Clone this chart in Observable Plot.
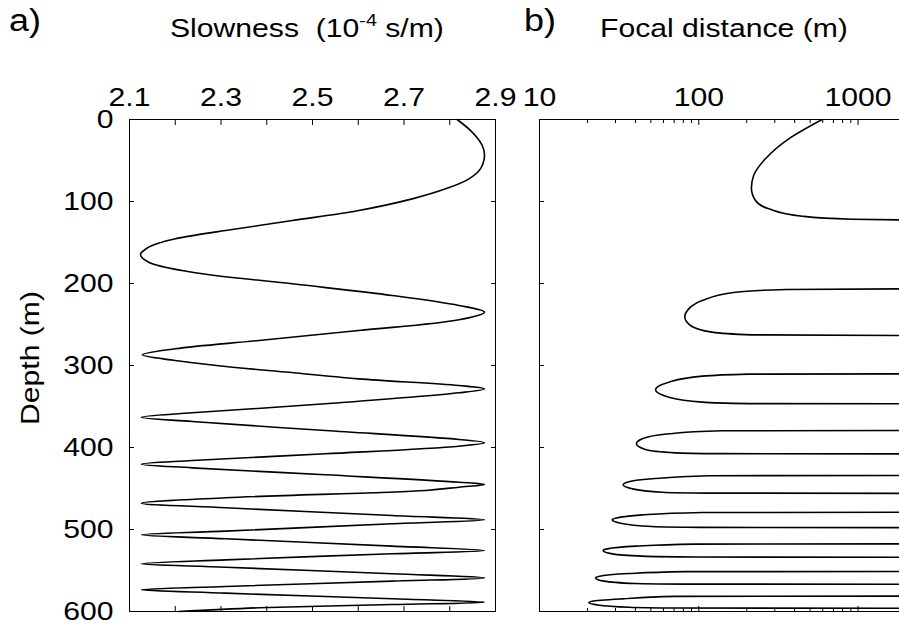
<!DOCTYPE html>
<html>
<head>
<meta charset="utf-8">
<script src="https://cdn.jsdelivr.net/npm/d3@7"></script>
<script src="https://cdn.jsdelivr.net/npm/@observablehq/plot@0.6"></script>
<style>
  body { margin: 0; background: #fff; }
  #wrap { position: relative; width: 899px; height: 624px; overflow: hidden; background: #fff; }
  #wrap svg { position: absolute; top: 0; }
</style>
</head>
<body>
<div id="wrap"></div>
<script>
// ---- Panel a data: slowness (1e-4 s/m) vs depth (m) ----
const slowDepth = [0, 15.4, 31.7, 43.9, 60.2, 72.4, 84.6, 96.8, 111, 123.2, 135.4, 141, 146, 151, 157, 164.6, 174, 186.2, 200.4, 214.6, 226.8, 235, 244.3, 257.3, 269.5, 279.6, 287, 293.9, 300, 308, 316.3, 324.4, 328.5, 333.3, 346.7, 357.7, 363, 368.3, 379.3, 390.2, 394.3, 398.4, 407.7, 415.9, 420.3, 424.8, 433.3, 442.3, 445.1, 448.4, 452.4, 461.3, 467.9, 473.5, 482.9, 488.2, 493, 502, 506.5, 511.3, 520.3, 525.6, 529.6, 537, 541.9, 546, 554, 559, 563, 569.5, 573.5, 577.6, 584.5, 588.6, 591.5, 595.5, 600];
const slowness = [2.816, 2.849, 2.871, 2.876, 2.867, 2.842, 2.791, 2.718, 2.601, 2.456, 2.310, 2.245, 2.196, 2.163, 2.138, 2.124, 2.142, 2.237, 2.456, 2.674, 2.820, 2.876, 2.820, 2.601, 2.383, 2.200, 2.128, 2.200, 2.290, 2.440, 2.601, 2.820, 2.876, 2.820, 2.528, 2.237, 2.126, 2.237, 2.528, 2.820, 2.876, 2.820, 2.528, 2.237, 2.126, 2.237, 2.528, 2.820, 2.876, 2.820, 2.747, 2.310, 2.126, 2.310, 2.674, 2.876, 2.674, 2.310, 2.126, 2.310, 2.674, 2.876, 2.674, 2.310, 2.126, 2.310, 2.674, 2.876, 2.674, 2.310, 2.126, 2.310, 2.674, 2.876, 2.674, 2.383, 2.207];

// ---- Panel b data: focal distance (m) vs depth (m), one lobe per id ----
const focalLobe = [
  1,1,1,1,1,1,1,1,1,1,
  2,2,2,2,2,2,2,2,2,2,
  3,3,3,3,3,3,3,3,3,
  4,4,4,4,4,4,4,4,4,
  5,5,5,5,5,5,5,5,5,
  6,6,6,6,6,6,6,6,6,
  7,7,7,7,7,7,7,7,7,
  8,8,8,8,8,8,8,8,8,
  9,9,9,9,9,9,9,9,9];
const focalDepth = [
  0, 23.6, 47.9, 68.3, 83.7, 98.8, 108.9, 117.9, 121.6, 122.5,
  206.5, 207.3, 210.6, 220.7, 230.9, 241, 251.2, 259.3, 262.6, 263.4,
  310.2, 310.5, 313, 320.4, 329.7, 338.6, 344.7, 346.5, 346.7,
  379.3, 379.6, 383.3, 389.4, 395.5, 402.4, 406.5, 407.5, 407.8,
  434.1, 434.4, 438.2, 442.3, 445.5, 450.4, 454.5, 455.6, 455.9,
  479, 479.3, 482.2, 486.3, 488.2, 492.3, 496.3, 497.4, 497.7,
  517.5, 517.8, 520.3, 523.6, 525.6, 529.7, 532.5, 533.6, 533.9,
  551.2, 551.4, 553.7, 557.3, 559, 563, 565.9, 566.6, 566.8,
  581.3, 581.5, 584.6, 587.4, 589, 591.9, 594.8, 595.8, 596];
const focalDist = [
  595, 367, 262, 221, 214, 227, 275, 446, 918, 1900,
  1900, 350, 170, 105, 86.5, 81.7, 88.7, 121, 216, 1900,
  1900, 206, 105, 64.9, 53.5, 64.9, 105, 206, 1900,
  1900, 140, 64.9, 44.2, 40.6, 46.2, 71.4, 140, 1900,
  1900, 116, 50.9, 35.5, 33.5, 38.2, 58.9, 116, 1900,
  1900, 105, 44.2, 30, 28.6, 32.2, 50.9, 105, 1900,
  1900, 95.3, 40.1, 26.6, 25.1, 28.6, 44.2, 95.3, 1900,
  1900, 82.6, 36.4, 23.5, 22.5, 25.4, 40.1, 82.6, 1900,
  1900, 71.4, 33.1, 21.4, 20.4, 23, 36.4, 71.4, 1900];

// ---- ticks ----
const slowTicks = [2.1, 2.2, 2.3, 2.4, 2.5, 2.6, 2.7, 2.8, 2.9];
const slowLabels = [2.1, 2.3, 2.5, 2.7, 2.9];
const depthTicks = [0, 100, 200, 300, 400, 500, 600];
const focalMajor = [10, 100, 1000];
const focalMinor = [20, 30, 40, 50, 60, 70, 80, 90, 200, 300, 400, 500, 600, 700, 800, 900];
const slowDomain = [2.1, 2.9];
const depthDomain = [0, 600];
const focalDomain = [10, 1820];

const FONT = '"Liberation Sans", Arial, Helvetica, sans-serif';
const STRETCH = 1.16;
const baseStyle = {fontFamily: FONT, fontSize: "26px", color: "#000", background: "transparent", overflow: "visible"};

const slowData = slowDepth.map((d, i) => ({depth: d, s: slowness[i]}));
const focalData = focalDepth.map((d, i) => ({depth: d, f: focalDist[i], lobe: focalLobe[i]}));

const plotA = Plot.plot({
  width: 520, height: 624,
  marginLeft: 129, marginRight: 25, marginTop: 119, marginBottom: 13,
  style: baseStyle,
  x: {domain: slowDomain, label: null},
  y: {domain: depthDomain, reverse: true, label: null},
  marks: [
    Plot.axisX(slowTicks, {anchor: "top", tickSize: 5, dy: 5, fill: "none", label: null}),
    Plot.axisX(slowTicks, {anchor: "bottom", tickSize: 5, dy: -5, fill: "none", label: null}),
    Plot.axisX(slowLabels, {anchor: "top", tickSize: 0, tickPadding: 14, tickFormat: d => d.toFixed(1), label: null}),
    Plot.axisY(depthTicks, {anchor: "left", tickSize: 5, dx: 5, fill: "none", label: null}),
    Plot.axisY(depthTicks, {anchor: "right", tickSize: 5, dx: -5, fill: "none", label: null}),
    Plot.axisY(depthTicks, {anchor: "left", tickSize: 0, tickPadding: 16, label: null}),
    Plot.frame({stroke: "#000", strokeWidth: 1}),
    Plot.line(slowData, {x: "s", y: "depth", curve: "catmull-rom", stroke: "#000", strokeWidth: 1.6})
  ]
});
plotA.style.left = "0px";

const plotB = Plot.plot({
  width: 399, height: 624,
  marginLeft: 39, marginRight: 0, marginTop: 119, marginBottom: 13,
  style: baseStyle,
  x: {type: "log", domain: focalDomain, label: null},
  y: {domain: depthDomain, reverse: true, label: null},
  marks: [
    Plot.axisX(focalMajor, {anchor: "top", tickSize: 5, dy: 5, fill: "none", label: null}),
    Plot.axisX(focalMajor, {anchor: "bottom", tickSize: 5, dy: -5, fill: "none", label: null}),
    Plot.axisX(focalMinor, {anchor: "top", tickSize: 3, dy: 3, fill: "none", label: null}),
    Plot.axisX(focalMinor, {anchor: "bottom", tickSize: 3, dy: -3, fill: "none", label: null}),
    Plot.axisX(focalMajor, {anchor: "top", tickSize: 0, tickPadding: 14, tickFormat: d => String(d), label: null}),
    Plot.axisY(depthTicks, {anchor: "left", tickSize: 5, dx: 5, fill: "none", label: null}),
    Plot.ruleX([focalDomain[0]], {stroke: "#000"}),
    Plot.ruleY(depthDomain, {stroke: "#000"}),
    Plot.line(focalData, {x: "f", y: "depth", z: "lobe", curve: "monotone-y", stroke: "#000", strokeWidth: 1.6, clip: true})
  ]
});
plotB.style.left = "500px";

// widen glyphs horizontally (reference text is wider than Liberation Sans);
// only the horizontal position is moved into the transform, vertical offsets are kept
function stretch(svg, k) {
  svg.querySelectorAll("text").forEach(t => {
    let tr = t.getAttribute("transform") || "";
    const x = t.getAttribute("x");
    if (x != null && x !== "") {
      tr += ` translate(${parseFloat(x) || 0},0)`;
      t.removeAttribute("x");
    }
    t.setAttribute("transform", `${tr} scale(${k},1)`);
  });
}
stretch(plotA, STRETCH);
stretch(plotB, STRETCH);

const wrap = document.getElementById("wrap");
wrap.appendChild(plotA);
wrap.appendChild(plotB);

// ---- titles / labels overlay ----
const ov = d3.select(wrap).append("svg")
  .attr("width", 899).attr("height", 624)
  .style("left", "0px").style("pointer-events", "none")
  .style("font-family", FONT);

ov.append("text").attr("transform", `translate(9,31) scale(${STRETCH},1)`).attr("font-size", 31).text("a)");
ov.append("text").attr("transform", `translate(524,31) scale(${STRETCH},1)`).attr("font-size", 31).text("b)");

const t1 = ov.append("text").attr("transform", `translate(170,37) scale(${STRETCH},1)`).attr("font-size", 26);
t1.append("tspan").text("Slowness\u00a0\u00a0(10");
t1.append("tspan").attr("font-size", 17).attr("dy", -11).text("-4");
t1.append("tspan").attr("dy", 11).text("\u00a0s/m)");

ov.append("text").attr("transform", `translate(600,37) scale(${STRETCH},1)`).attr("font-size", 26).text("Focal distance (m)");

ov.append("text")
  .attr("transform", `translate(39,358) rotate(-90) scale(${STRETCH},1)`)
  .attr("text-anchor", "middle").attr("font-size", 26)
  .text("Depth (m)");
</script>
</body>
</html>
